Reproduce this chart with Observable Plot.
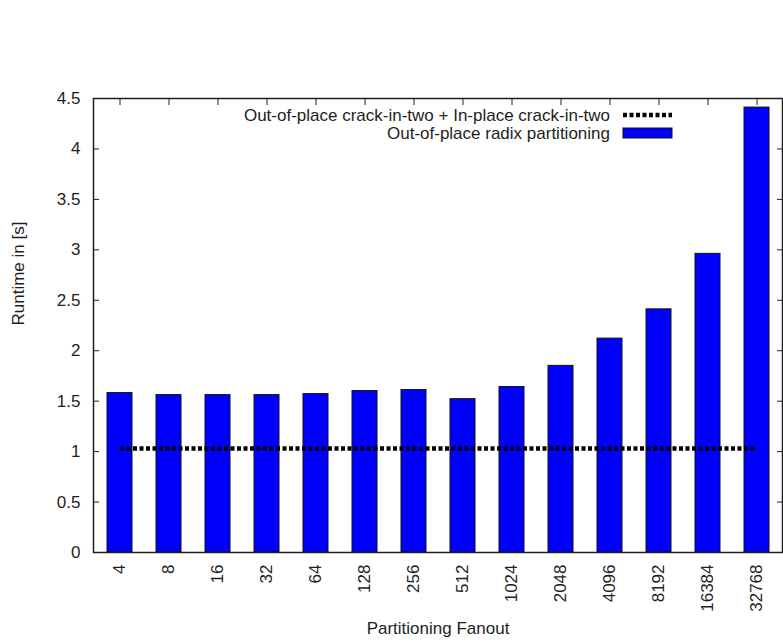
<!DOCTYPE html>
<html>
<head>
<meta charset="utf-8">
<script src="https://cdn.jsdelivr.net/npm/d3@7"></script>
<script src="https://cdn.jsdelivr.net/npm/@observablehq/plot@0.6"></script>
<style>
  body { margin: 0; background: #fff; }
  #chart svg { display: block; }
</style>
</head>
<body>
<div id="chart"></div>
<script>
// Partitioning fanout categories (x axis)
const fanouts = ["4", "8", "16", "32", "64", "128", "256", "512", "1024", "2048", "4096", "8192", "16384", "32768"];
// Runtime in seconds of out-of-place radix partitioning, per fanout
const radixRuntime = [1.58, 1.56, 1.56, 1.56, 1.57, 1.60, 1.61, 1.52, 1.64, 1.85, 2.12, 2.41, 2.96, 4.41];
// Runtime of out-of-place + in-place crack-in-two (constant across fanouts)
const crackRuntime = [1.03, 1.03, 1.03, 1.03, 1.03, 1.03, 1.03, 1.03, 1.03, 1.03, 1.03, 1.03, 1.03, 1.03];
// Y axis ticks
const yTicks = [0, 0.5, 1, 1.5, 2, 2.5, 3, 3.5, 4, 4.5];
// Series names
const seriesNames = ["Out-of-place crack-in-two + In-place crack-in-two", "Out-of-place radix partitioning"];
const xTitle = "Partitioning Fanout";
const yTitle = "Runtime in [s]";

const rows = fanouts.map((f, i) => ({fanout: f, radix: radixRuntime[i], crack: crackRuntime[i]}));

const W = 783, H = 643;
const mL = 93, mR = 1, mT = 98, mB = 91;
const BLUE = "#0000ff";
const INK = "#1e1e1e";
const FONT = "'Liberation Sans', Arial, Helvetica, sans-serif";
const FS = 17;

const chart = Plot.plot({
  width: W,
  height: H,
  marginLeft: mL,
  marginRight: mR,
  marginTop: mT,
  marginBottom: mB,
  style: {fontFamily: FONT, fontSize: FS + "px", color: INK, background: "#fff"},
  x: {type: "band", domain: fanouts, paddingInner: 0.5, paddingOuter: 0.24, align: 0.5},
  y: {domain: [0, 4.5]},
  marks: [
    Plot.barY(rows, {x: "fanout", y: "radix", fill: BLUE, stroke: "#111", strokeWidth: 1}),
    Plot.line(rows, {x: "fanout", y: "crack", stroke: "#000", strokeWidth: 4.5,
      strokeDasharray: "4,2.5", strokeLinecap: "butt"}),
    // left axis: labels outside, ticks inside
    Plot.axisY({ticks: yTicks, tickSize: -6, tickPadding: 19, tickFormat: d => String(d), label: null, fontSize: FS}),
    // mirrored ticks on the right
    Plot.axisY({anchor: "right", ticks: yTicks, tickSize: -6, tickFormat: () => "", label: null}),
    // bottom labels, rotated
    Plot.axisX({tickSize: 0, tickPadding: 12, tickRotate: -90, label: null, fontSize: FS}),
    // mirrored ticks on top
    Plot.axisX({anchor: "top", tickSize: -6, tickFormat: () => "", label: null}),
    Plot.frame({stroke: INK, strokeWidth: 1.5}),
    Plot.text([yTitle], {frameAnchor: "left", dx: -75, rotate: -90, fontSize: FS, fill: INK}),
    Plot.text([xTitle], {frameAnchor: "bottom", dy: 81, fontSize: FS, fill: INK})
  ]
});

// Key in the upper right of the plotting area
const svg = d3.select(chart);
const key = svg.append("g").attr("font-family", FONT).attr("font-size", FS).attr("fill", INK);
const keyRight = W - mR - 172;   // right edge of key text
const sampleX0 = keyRight + 13, sampleX1 = keyRight + 62;
const rowY = [mT + 17, mT + 35];
key.append("text").attr("x", keyRight).attr("y", rowY[0]).attr("dy", "0.35em")
  .attr("text-anchor", "end").text(seriesNames[0]);
key.append("line").attr("x1", sampleX0).attr("x2", sampleX1).attr("y1", rowY[0]).attr("y2", rowY[0])
  .attr("stroke", "#000").attr("stroke-width", 4.5).attr("stroke-dasharray", "4,2.5");
key.append("text").attr("x", keyRight).attr("y", rowY[1]).attr("dy", "0.35em")
  .attr("text-anchor", "end").text(seriesNames[1]);
key.append("rect").attr("x", sampleX0).attr("y", rowY[1] - 5).attr("width", sampleX1 - sampleX0).attr("height", 10)
  .attr("fill", BLUE).attr("stroke", "#111").attr("stroke-width", 1);

document.getElementById("chart").appendChild(chart);
</script>
</body>
</html>
